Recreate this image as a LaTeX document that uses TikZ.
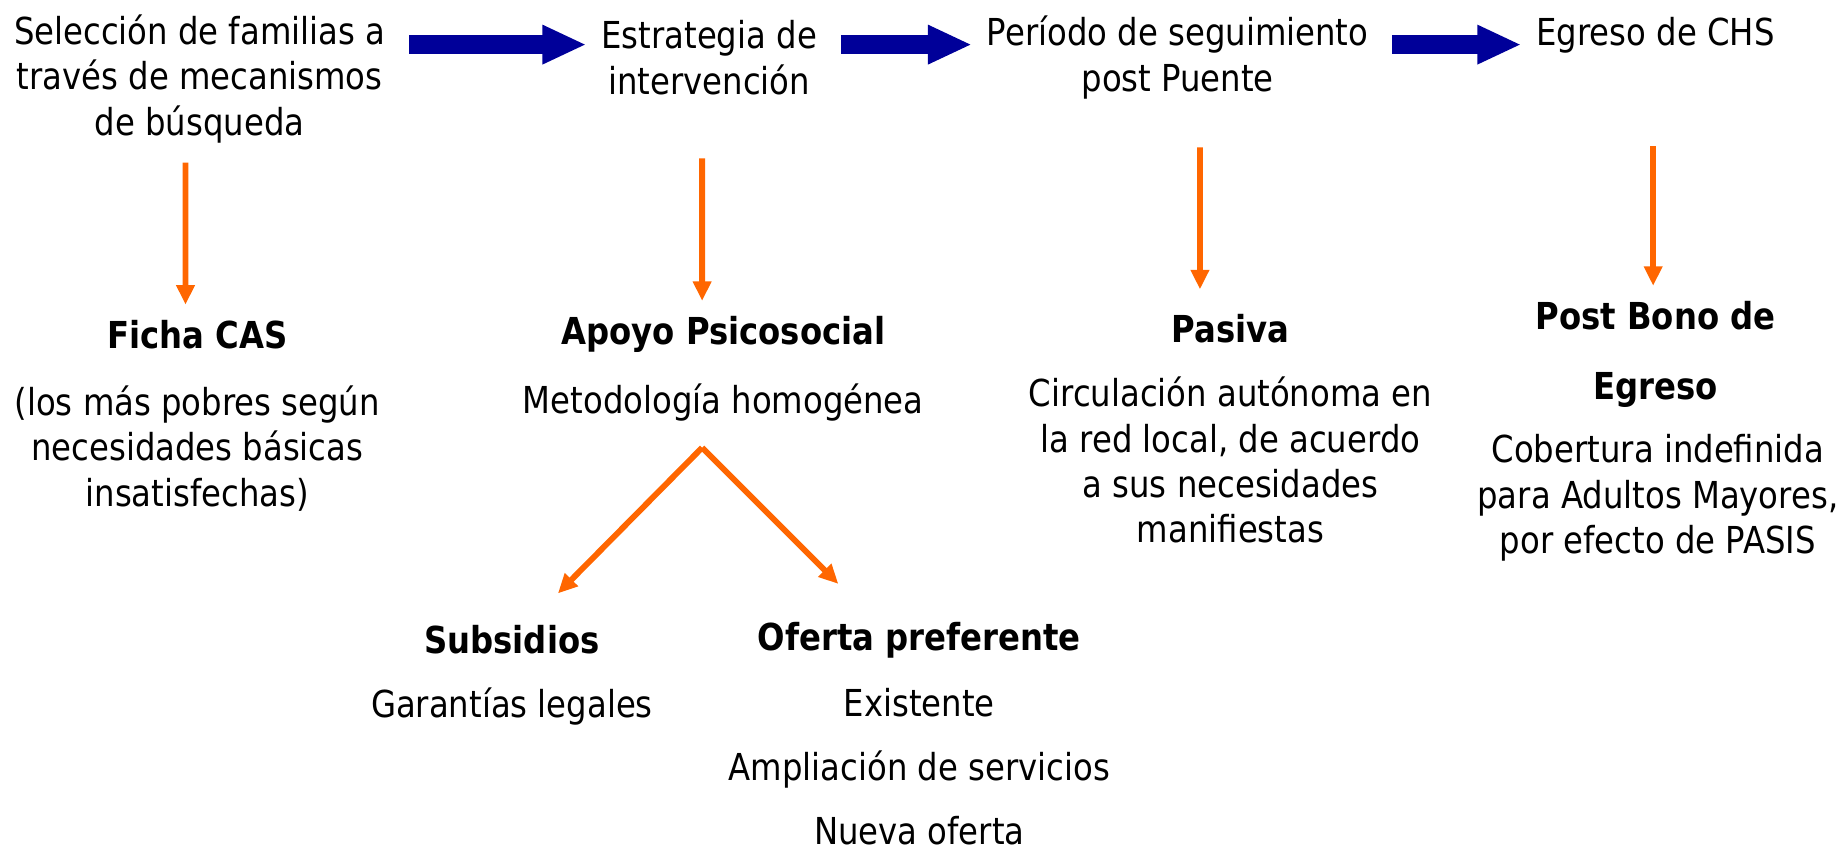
\documentclass[tikz,border=0pt]{standalone}
\usepackage{fontspec}
\setmainfont{DejaVu Sans}[FakeStretch=0.87]
\usetikzlibrary{arrows.meta}
\definecolor{flowblue}{HTML}{000099}
\definecolor{stepor}{HTML}{FF6600}
\tikzset{
  txt/.style={align=center, inner sep=0.1cm, font=\fontsize{18}{22}\selectfont},
  hd/.style={txt, font=\fontsize{18}{22}\selectfont\bfseries},
  flow/.style={draw=flowblue, line width=0.33cm, -{Triangle[length=0.75cm,width=0.62cm]}, shorten <=0.3cm, shorten >=0.15cm},
  down/.style={draw=stepor, line width=0.1cm, -{Triangle[length=0.33cm,width=0.3cm]}},
}
\begin{document}
\begin{tikzpicture}[x=0.02cm, y=-0.02cm]
\useasboundingbox (0,0) rectangle (1568,726);
% etapas
\node[txt] (sel) at (170,67) {Selección de familias a\\través de mecanismos\\de búsqueda};
\node[txt] (est) at (604,49) {Estrategia de\\intervención};
\node[txt] (per) at (1003,49) {Período de seguimiento\\post Puente};
\node[txt] (egr) at (1410,30) {Egreso de CHS};
\coordinate (row) at (0,38);
\draw[flow] (sel.east |- row) -- (est.west |- row);
\draw[flow] (est.east |- row) -- (per.west |- row);
\draw[flow] (per.east |- row) -- (egr.west |- row);
% componentes
\node[hd] (ficha) at (168,285) {Ficha CAS};
\node[txt] (fichad) at (168,382) {(los más pobres según\\necesidades básicas\\insatisfechas)};
\node[hd] (apoyo) at (616,285) {Apoyo Psicosocial};
\node[txt] (meto) at (616,343) {Metodología homogénea};
\node[hd] (pasiva) at (1048,280) {Pasiva};
\node[txt] (pasd) at (1048,392) {Circulación autónoma en\\la red local, de acuerdo\\a sus necesidades\\manifiestas};
\node[hd] (post) at (1410,302) {Post Bono de\\[0.42cm]Egreso};
\node[txt] (postd) at (1412,424) {Cobertura indefinida\\para Adultos Mayores,\\por efecto de PASIS};
\draw[down, shorten <=0.23cm, shorten >=0.16cm] ([xshift=-0.24cm]sel.south) -- ([xshift=-0.2cm]ficha.north);
\draw[down, shorten <=0.98cm, shorten >=0.16cm] ([xshift=-0.12cm]est.south) -- ([xshift=-0.36cm]apoyo.north);
\draw[down, shorten <=0.72cm, shorten >=0.32cm] ([xshift=0.38cm]per.south) -- ([xshift=-0.52cm]pasiva.north);
\draw[down, shorten <=1.48cm, shorten >=0.16cm] ([xshift=-0.04cm]egr.south) -- ([xshift=-0.04cm]post.north);
% apoyo psicosocial
\node[hd] (subs) at (436,545) {Subsidios};
\node[txt] (garant) at (436,602) {Garantías legales};
\node[hd] (ofer) at (783,545) {Oferta preferente};
\node[txt, font=\fontsize{18}{31}\selectfont] (oferd) at (783,653) {Existente\\Ampliación de servicios\\Nueva oferta};
\coordinate (fork) at ([xshift=-0.36cm,yshift=-0.34cm]meto.south);
\draw[down, shorten >=0.62cm] (fork) -- (subs);
\draw[down] (fork) -- ++(116,116);
\end{tikzpicture}
\end{document}
